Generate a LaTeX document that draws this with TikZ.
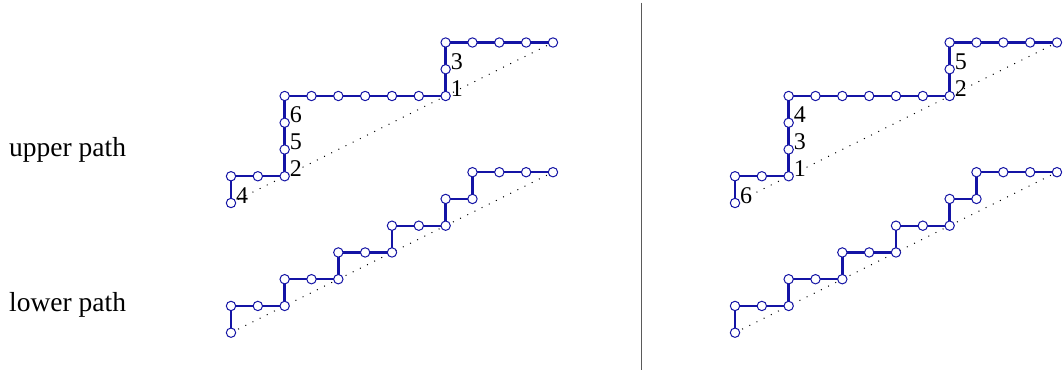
\documentclass[tikz,border=0pt]{standalone}
\usepackage{fontspec}
\setmainfont{Liberation Serif}
\usetikzlibrary{backgrounds}
\definecolor{pathblue}{RGB}{20,20,165}
\definecolor{divgray}{RGB}{90,90,90}
\tikzset{
  vtx/.style={circle, draw=pathblue, fill=white, line width=1pt, minimum size=9.4pt, inner sep=0pt},
  pathseg/.style={draw=pathblue, line width=2.4pt},
  diag/.style={black, line width=1pt, dash pattern=on 1pt off 7pt},
  numlbl/.style={anchor=base west, inner sep=0pt, xshift=5pt, font=\fontsize{24}{24}\selectfont},
  sidelbl/.style={anchor=base west, inner sep=0pt, font=\fontsize{27.5}{30}\selectfont},
  divider/.style={draw=divgray, line width=1pt}
}
\newcommand\latticepath[2]{%
  \foreach \xx/\yy [count=\i] in {#2} { \node[vtx] (#1\i) at (\xx,\yy) {}; }
  \begin{scope}[on background layer]
    \foreach \i [evaluate=\i as \j using int(\i+1)] in {1,...,18}
      \draw[pathseg] (#1\i.center) -- (#1\j.center);
    \draw[diag] (#11.center) -- (#119.center);
  \end{scope}
}
\def\upperlist{0/0,0/1,1/1,2/1,2/2,2/3,2/4,3/4,4/4,5/4,6/4,7/4,8/4,8/5,8/6,9/6,10/6,11/6,12/6}
\def\lowerlist{0/0,0/1,1/1,2/1,2/2,3/2,4/2,4/3,5/3,6/3,6/4,7/4,8/4,8/5,9/5,9/6,10/6,11/6,12/6}
\begin{document}
\begin{tikzpicture}[x=1pt, y=-1pt]
  \useasboundingbox (0,0) rectangle (1064,372);

  \node[sidelbl] (uplbl) at (9,156.7) {upper path};
  \node[sidelbl] (lowlbl) at (9,311.7) {lower path};

  \coordinate (divtop) at (641,2.7);
  \coordinate (divbot) at (641,370);
  \draw[divider] (divtop) -- (divbot);

  % left panel
  \begin{scope}[shift={(231,203)}, x=26.83pt, y=26.75pt]
    \expandafter\latticepath\expandafter{\expandafter L\expandafter U\expandafter}\expandafter{\upperlist}
  \end{scope}
  \begin{scope}[shift={(231,332.7)}, x=26.83pt, y=26.75pt]
    \expandafter\latticepath\expandafter{\expandafter L\expandafter L\expandafter}\expandafter{\lowerlist}
  \end{scope}
  \node[numlbl] (LUa) at (LU1.center) {4};
  \node[numlbl] (LUb) at (LU4.center) {2};
  \node[numlbl] (LUc) at (LU5.center) {5};
  \node[numlbl] (LUd) at (LU6.center) {6};
  \node[numlbl] (LUe) at (LU13.center) {1};
  \node[numlbl] (LUf) at (LU14.center) {3};

  % right panel
  \begin{scope}[shift={(735,203)}, x=26.83pt, y=26.75pt]
    \expandafter\latticepath\expandafter{\expandafter R\expandafter U\expandafter}\expandafter{\upperlist}
  \end{scope}
  \begin{scope}[shift={(735,332.7)}, x=26.83pt, y=26.75pt]
    \expandafter\latticepath\expandafter{\expandafter R\expandafter L\expandafter}\expandafter{\lowerlist}
  \end{scope}
  \node[numlbl] (RUa) at (RU1.center) {6};
  \node[numlbl] (RUb) at (RU4.center) {1};
  \node[numlbl] (RUc) at (RU5.center) {3};
  \node[numlbl] (RUd) at (RU6.center) {4};
  \node[numlbl] (RUe) at (RU13.center) {2};
  \node[numlbl] (RUf) at (RU14.center) {5};
\end{tikzpicture}
\end{document}
